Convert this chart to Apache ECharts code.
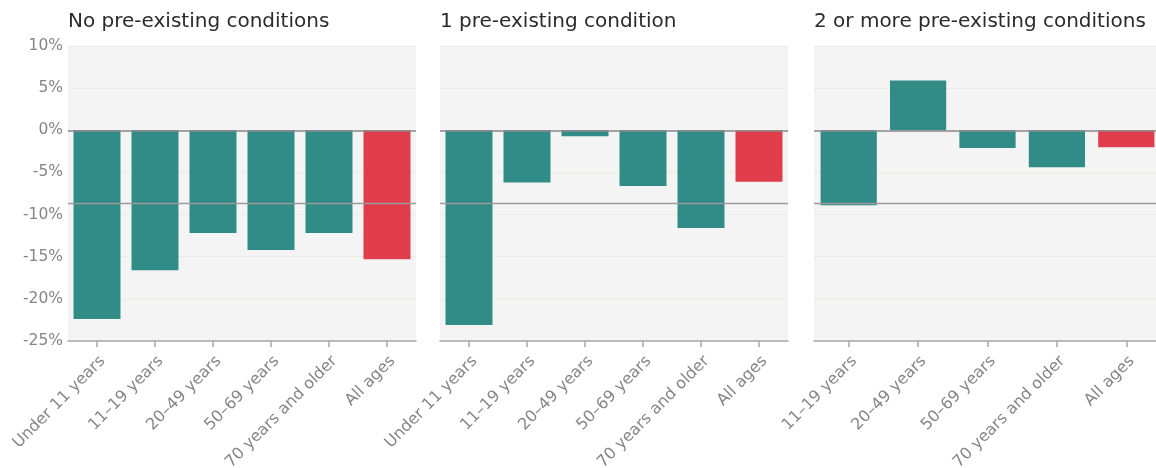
<!DOCTYPE html>
<html>
<head>
<meta charset="utf-8">
<script src="https://cdn.jsdelivr.net/npm/echarts@6/dist/echarts.min.js"></script>
<style>
html,body{margin:0;padding:0;background:#fff;}
#chart{width:1156px;height:468px;}
</style>
</head>
<body>
<div id="chart"></div>
<script>
// Data
const panelTitles = ["No pre-existing conditions", "1 pre-existing condition", "2 or more pre-existing conditions"];
const categoriesA = ["Under 11 years", "11–19 years", "20–49 years", "50–69 years", "70 years and older", "All ages"];
const categoriesB = ["Under 11 years", "11–19 years", "20–49 years", "50–69 years", "70 years and older", "All ages"];
const categoriesC = ["11–19 years", "20–49 years", "50–69 years", "70 years and older", "All ages"];
const valuesA = [-22.4, -16.6, -12.2, -14.2, -12.2, -15.3];
const valuesB = [-23.1, -6.2, -0.7, -6.6, -11.6, -6.1];
const valuesC = [-8.9, 5.9, -2.1, -4.4, -2.0];
const referenceValue = -8.7;
const yMin = -25, yMax = 10, yStep = 5;

const TEAL = '#318b87', RED = '#e03d4a';
const FONT = 'DejaVu Sans, sans-serif';

const panels = [
  {cats: categoriesA, vals: valuesA, left: 68, width: 348},
  {cats: categoriesB, vals: valuesB, left: 440, width: 348},
  {cats: categoriesC, vals: valuesC, left: 814, width: 347}
];

const chart = echarts.init(document.getElementById('chart'));
const option = {
  animation: false,
  backgroundColor: '#ffffff',
  title: panels.map((p, i) => ({
    text: panelTitles[i], left: p.left, top: 12, padding: 0,
    textStyle: {fontFamily: FONT, fontSize: 20, fontWeight: 'normal', color: '#2b2b2b'}
  })),
  grid: panels.map(p => ({
    left: p.left, width: p.width, top: 46, height: 295,
    show: true, backgroundColor: '#f4f4f4', borderWidth: 0,
    containLabel: false, outerBoundsMode: 'none'
  })),
  xAxis: panels.map((p, i) => ({
    type: 'category', gridIndex: i, data: p.cats, position: 'bottom',
    axisLine: {show: true, onZero: false, lineStyle: {color: '#a8a8a8', width: 1.5}},
    axisTick: {show: true, alignWithLabel: true, length: 6, lineStyle: {color: '#a8a8a8', width: 1.5}},
    axisLabel: {rotate: 45, interval: 0, margin: 12, verticalAlign: 'top', color: '#858585', fontFamily: FONT, fontSize: 16}
  })),
  yAxis: panels.map((p, i) => ({
    type: 'value', gridIndex: i, min: yMin, max: yMax, interval: yStep,
    axisLine: {show: false}, axisTick: {show: false},
    axisLabel: {show: i === 0, formatter: '{value}%', color: '#858585', fontFamily: FONT, fontSize: 15.5, margin: 5},
    splitLine: {show: true, lineStyle: {color: '#ebebe6', width: 1}}
  })),
  series: panels.map((p, i) => ({
    type: 'bar', xAxisIndex: i, yAxisIndex: i,
    barCategoryGap: '19%',
    data: p.vals.map((v, j) => ({
      value: v,
      itemStyle: {color: j === p.vals.length - 1 ? RED : TEAL}
    })),
    markLine: {
      silent: true, symbol: 'none', label: {show: false},
      data: [
        {yAxis: 0, lineStyle: {color: '#8a8a8a', width: 1.5, type: 'solid'}},
        {yAxis: referenceValue, lineStyle: {color: '#9a9a9a', width: 1.3, type: 'solid'}}
      ]
    }
  }))
};
chart.setOption(option);
</script>
</body>
</html>
